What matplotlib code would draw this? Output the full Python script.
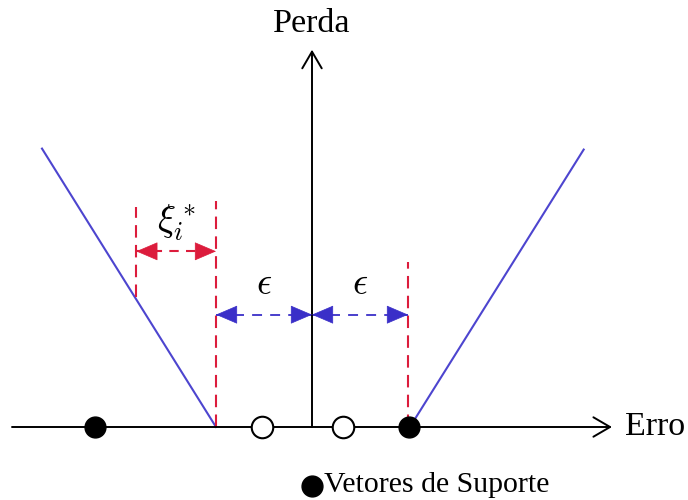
import matplotlib
matplotlib.use("Agg")
import matplotlib.pyplot as plt

plt.rcParams['font.family'] = ['Liberation Serif', 'DejaVu Serif']
plt.rcParams['mathtext.fontset'] = 'cm'

# ---- data (units: epsilon = 1) ----
eps = 1.0
left_loss_x = [-2.8125, -1.0]
left_loss_y = [2.90, 0.0]
right_loss_x = [1.02, 2.83]
right_loss_y = [0.0, 2.89]
support_x = [-2.26, 1.01]
nonsupport_x = [-0.52, 0.32]
# red dashed guide lines: (x, y_bottom, y_top)
guide_x = [-1.0, 1.0, -1.83]
guide_y0 = [0.0, 0.0, 1.35]
guide_y1 = [2.35, 1.72, 2.29]
xi_arrow_x = [-1.83, -1.0]
xi_arrow_y = 1.83
eps_arrow_y = 1.17
x_axis = [-3.125, 3.125]
y_axis = [0.0, 3.93]

blue_line = '#4d45cf'
red = '#dc1c3c'
blue_arrow = '#3a2fc8'

fig = plt.figure(figsize=(6.88, 5.0), dpi=100)
ax = fig.add_axes([0, 0, 1, 1])
ax.set_xlim(-312 / 96, (688 - 312) / 96)
ax.set_ylim(-73 / 96, 427 / 96)
ax.axis('off')

# axes arrows
ax.annotate('', xy=(x_axis[1], 0), xytext=(x_axis[0], 0),
            arrowprops=dict(arrowstyle='->,head_length=0.6,head_width=0.35',
                            lw=1.4, color='black', shrinkA=0, shrinkB=0,
                            mutation_scale=20), zorder=3)
ax.annotate('', xy=(0, y_axis[1]), xytext=(0, y_axis[0]),
            arrowprops=dict(arrowstyle='->,head_length=0.6,head_width=0.35',
                            lw=1.4, color='black', shrinkA=0, shrinkB=0,
                            mutation_scale=20), zorder=3)
ax.text(0, 4.2, 'Perda', ha='center', va='center', fontsize=24.5)
ax.text(3.26, 0.0, 'Erro', ha='left', va='center', fontsize=24.5)

# loss function
ax.plot(left_loss_x, left_loss_y, color=blue_line, lw=1.5, zorder=2)
ax.plot(right_loss_x, right_loss_y, color=blue_line, lw=1.5, zorder=2)

# red dashed guides
for gx, g0, g1 in zip(guide_x, guide_y0, guide_y1):
    ax.plot([gx, gx], [g0, g1], color=red, lw=1.5, dashes=(6, 3.5), zorder=2)


def dashed_double_arrow(x0, x1, y, color, lw, dashes):
    ax.plot([x0, x1], [y, y], color=color, lw=lw, dashes=dashes, zorder=2)
    style = '-|>,head_length=1.1,head_width=0.47'
    d = 0.05
    ax.annotate('', xy=(x0, y), xytext=(x0 + d, y),
                arrowprops=dict(arrowstyle=style, color=color, lw=0.5,
                                shrinkA=0, shrinkB=0, mutation_scale=13), zorder=3)
    ax.annotate('', xy=(x1, y), xytext=(x1 - d, y),
                arrowprops=dict(arrowstyle=style, color=color, lw=0.5,
                                shrinkA=0, shrinkB=0, mutation_scale=13), zorder=3)


dashed_double_arrow(xi_arrow_x[0], xi_arrow_x[1], xi_arrow_y, red, 1.5, (4.5, 3.5))
dashed_double_arrow(-eps, 0, eps_arrow_y, blue_arrow, 1.3, (5.5, 4.5))
dashed_double_arrow(0, eps, eps_arrow_y, blue_arrow, 1.3, (5.5, 4.5))

ax.text((xi_arrow_x[0] + xi_arrow_x[1]) / 2, 2.13, r'$\xi_i^*$',
        ha='center', va='center', fontsize=27)
ax.text(-eps / 2, 1.48, r'$\epsilon$', ha='center', va='center', fontsize=27)
ax.text(eps / 2, 1.48, r'$\epsilon$', ha='center', va='center', fontsize=27)

# points
ax.plot(support_x, [0] * len(support_x), 'o', color='black', ms=15, zorder=4)
ax.plot(nonsupport_x, [0] * len(nonsupport_x), 'o', mfc='white', mec='black',
        mew=1.5, ms=15.5, zorder=4)

# legend
ax.plot([0], [-0.615], 'o', color='black', ms=15, zorder=4)
ax.text(0.13, -0.6, 'Vetores de Suporte', ha='left', va='center', fontsize=21.5)

fig.savefig('out.png', dpi=100)
